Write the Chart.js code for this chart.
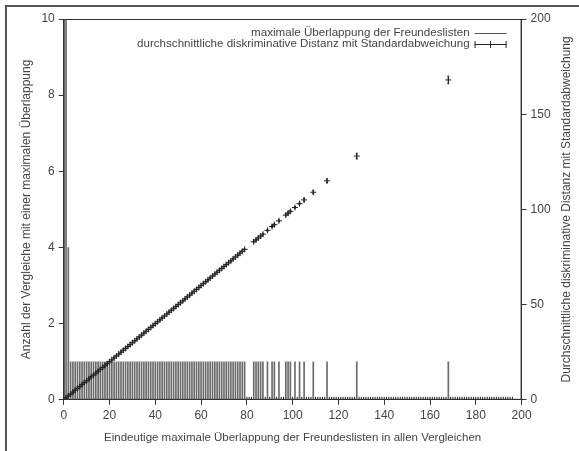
<!DOCTYPE html>
<html>
<head>
<meta charset="utf-8">
<script src="https://cdn.jsdelivr.net/npm/chart.js@4/dist/chart.umd.min.js"></script>
<style>
  body { margin: 0; background: #fff; }
  #frame { position: absolute; left: 5px; top: 5px; width: 580px; height: 450px;
           border-top: 2px solid #555; border-left: 2px solid #555; pointer-events: none; }
</style>
</head>
<body>
<canvas id="chart" width="579" height="451"></canvas>
<div id="frame"></div>
<script>
// Anzahl der Vergleiche je eindeutiger maximaler Überlappung (linke Achse)
const overlapX = [1, 2, 3, 4, 5, 6, 7, 8, 9, 10, 11, 12, 13, 14, 15, 16, 17, 18, 19, 20,
  21, 22, 23, 24, 25, 26, 27, 28, 29, 30, 31, 32, 33, 34, 35, 36, 37, 38, 39, 40,
  41, 42, 43, 44, 45, 46, 47, 48, 49, 50, 51, 52, 53, 54, 55, 56, 57, 58, 59, 60,
  61, 62, 63, 64, 65, 66, 67, 68, 69, 70, 71, 72, 73, 74, 75, 76, 77, 78, 79,
  83, 84, 85, 86, 87, 89, 91, 92, 94, 97, 98, 99, 101, 103, 105, 109, 115, 128, 168];
const overlapCount = [14, 4, 1, 1, 1, 1, 1, 1, 1, 1, 1, 1, 1, 1, 1, 1, 1, 1, 1, 1,
  1, 1, 1, 1, 1, 1, 1, 1, 1, 1, 1, 1, 1, 1, 1, 1, 1, 1, 1, 1,
  1, 1, 1, 1, 1, 1, 1, 1, 1, 1, 1, 1, 1, 1, 1, 1, 1, 1, 1, 1,
  1, 1, 1, 1, 1, 1, 1, 1, 1, 1, 1, 1, 1, 1, 1, 1, 1, 1, 1,
  1, 1, 1, 1, 1, 1, 1, 1, 1, 1, 1, 1, 1, 1, 1, 1, 1, 1, 1];

// durchschnittliche diskriminative Distanz (rechte Achse), Punkte auf der Diagonalen
const distX = [0, 1, 2, 3, 4, 5, 6, 7, 8, 9, 10, 11, 12, 13, 14, 15, 16, 17, 18, 19, 20,
  21, 22, 23, 24, 25, 26, 27, 28, 29, 30, 31, 32, 33, 34, 35, 36, 37, 38, 39, 40,
  41, 42, 43, 44, 45, 46, 47, 48, 49, 50, 51, 52, 53, 54, 55, 56, 57, 58, 59, 60,
  61, 62, 63, 64, 65, 66, 67, 68, 69, 70, 71, 72, 73, 74, 75, 76, 77, 78, 79,
  83, 84, 85, 86, 87, 89, 91, 92, 94, 97, 98, 99, 101, 103, 105, 109, 115, 128, 168];
const distMean = [0, 1, 2, 3, 4, 5, 6, 7, 8, 9, 10, 11, 12, 13, 14, 15, 16, 17, 18, 19, 20,
  21, 22, 23, 24, 25, 26, 27, 28, 29, 30, 31, 32, 33, 34, 35, 36, 37, 38, 39, 40,
  41, 42, 43, 44, 45, 46, 47, 48, 49, 50, 51, 52, 53, 54, 55, 56, 57, 58, 59, 60,
  61, 62, 63, 64, 65, 66, 67, 68, 69, 70, 71, 72, 73, 74, 75, 76, 77, 78, 79,
  83, 84, 85, 86, 87, 89, 91, 92, 94, 97, 98, 99, 101, 103, 105, 109, 115, 128, 168];
const distStd = [0, 0.3, 0.3, 0.3, 0.3, 0.3, 0.3, 0.3, 0.3, 0.3, 0.3, 0.3, 0.3, 0.3, 0.3, 0.3, 0.3, 0.3, 0.3, 0.3, 0.3,
  0.3, 0.3, 0.3, 0.3, 0.3, 0.3, 0.3, 0.3, 0.3, 0.3, 0.3, 0.3, 0.3, 0.3, 0.3, 0.3, 0.3, 0.3, 0.3, 0.3,
  0.3, 0.3, 0.3, 0.3, 0.3, 0.3, 0.3, 0.3, 0.3, 0.3, 0.3, 0.3, 0.3, 0.3, 0.3, 0.3, 0.3, 0.3, 0.3, 0.3,
  0.3, 0.3, 0.3, 0.3, 0.3, 0.3, 0.3, 0.3, 0.3, 0.3, 0.3, 0.3, 0.3, 0.3, 0.3, 0.3, 0.3, 0.3, 0.3,
  0.5, 0.5, 0.5, 0.5, 0.5, 0.5, 0.5, 0.5, 0.5, 0.5, 0.5, 0.5, 0.5, 0.5, 0.8, 0.8, 1, 1.5, 2];

// Überlappungen ohne Vergleiche: Distanz 0 auf der x-Achse
const zeroX = [80, 81, 82, 88, 90, 93, 95, 96, 100, 102, 104, 106, 107, 108, 110, 111, 112, 113, 114,
  116, 117, 118, 119, 120, 121, 122, 123, 124, 125, 126, 127, 129, 130, 131, 132, 133, 134, 135,
  136, 137, 138, 139, 140, 141, 142, 143, 144, 145, 146, 147, 148, 149, 150, 151, 152, 153, 154,
  155, 156, 157, 158, 159, 160, 161, 162, 163, 164, 165, 166, 167, 169, 170, 171, 172, 173, 174,
  175, 176, 177, 178, 179, 180, 181, 182, 183, 184, 185, 186, 187, 188, 189, 190, 191, 192, 193,
  194, 195, 196];

const xTicks = [0, 20, 40, 60, 80, 100, 120, 140, 160, 180, 200];
const leftTicks = [0, 2, 4, 6, 8, 10];
const rightTicks = [0, 50, 100, 150, 200];

const labelCount = "maximale Überlappung der Freundeslisten";
const labelDist = "durchschnittliche diskriminative Distanz mit Standardabweichung";
const titleX = "Eindeutige maximale Überlappung der Freundeslisten in allen Vergleichen";
const titleLeft = "Anzahl der Vergleiche mit einer maximalen Überlappung";
const titleRight = "Durchschnittliche diskriminative Distanz mit Standardabweichung";

const points = distX.map((x, i) => ({ x: x, y: distMean[i], s: distStd[i] }))
  .concat(zeroX.map(x => ({ x: x, y: 0, s: 0 })));

const ink = "#222";
const grey = "#444";
const fontFamily = "'Liberation Sans', Arial, sans-serif";
const font = { family: fontFamily, size: 12 };

// error bars for the distance series
const errorBars = {
  id: "errorBars",
  afterDatasetsDraw(chart) {
    const ctx = chart.ctx;
    const area = chart.chartArea;
    const meta = chart.getDatasetMeta(1);
    const y2 = chart.scales.y2;
    ctx.save();
    ctx.beginPath();
    ctx.rect(area.left, area.top, area.width, area.height);
    ctx.clip();
    ctx.strokeStyle = ink;
    ctx.lineWidth = 1;
    meta.data.forEach((el, i) => {
      const d = chart.data.datasets[1].data[i];
      if (!d.s) return;
      const top = y2.getPixelForValue(d.y + d.s);
      const bot = y2.getPixelForValue(d.y - d.s);
      ctx.beginPath();
      ctx.moveTo(el.x, top); ctx.lineTo(el.x, bot);
      ctx.moveTo(el.x - 1, top); ctx.lineTo(el.x + 1, top);
      ctx.moveTo(el.x - 1, bot); ctx.lineTo(el.x + 1, bot);
      ctx.stroke();
    });
    ctx.restore();
  }
};

// gnuplot style box, key and the right-hand title (read bottom to top)
const frameAndKey = {
  id: "frameAndKey",
  afterDraw(chart) {
    const ctx = chart.ctx;
    const a = chart.chartArea;
    ctx.save();
    ctx.strokeStyle = "#333";
    ctx.lineWidth = 1;
    ctx.strokeRect(a.left + 0.5, a.top + 0.5, a.width - 1, a.height - 1);

    ctx.font = "11.6px " + fontFamily;
    ctx.fillStyle = grey;
    ctx.textAlign = "right";
    ctx.textBaseline = "middle";
    const tx = a.right - 52;
    const sx0 = a.right - 47, sx1 = a.right - 15;
    const r1 = a.top + 14, r2 = a.top + 25;
    ctx.fillText(chart.data.datasets[0].label, tx, r1);
    ctx.fillText(chart.data.datasets[1].label, tx, r2);
    ctx.strokeStyle = "#555";
    ctx.beginPath();
    ctx.moveTo(sx0, r1 + 0.5); ctx.lineTo(sx1, r1 + 0.5);
    ctx.stroke();
    ctx.strokeStyle = ink;
    const mid = (sx0 + sx1) / 2;
    ctx.beginPath();
    ctx.moveTo(sx0, r2 + 0.5); ctx.lineTo(sx1, r2 + 0.5);
    ctx.moveTo(sx0 + 0.5, r2 - 3); ctx.lineTo(sx0 + 0.5, r2 + 4);
    ctx.moveTo(sx1 - 0.5, r2 - 3); ctx.lineTo(sx1 - 0.5, r2 + 4);
    ctx.moveTo(mid, r2 - 3); ctx.lineTo(mid, r2 + 4);
    ctx.stroke();

    const s = chart.scales.y2;
    ctx.font = "12px " + fontFamily;
    ctx.textAlign = "center";
    ctx.translate(s.right - 10, (a.top + a.bottom) / 2);
    ctx.rotate(-Math.PI / 2);
    ctx.fillText(titleRight, 0, 0);
    ctx.restore();
  }
};

function axisFor(min, max, ticks, position, title, titleColor, titleSize) {
  return {
    type: "linear",
    position: position,
    min: min,
    max: max,
    afterBuildTicks: s => { s.ticks = ticks.map(v => ({ value: v })); },
    ticks: { color: grey, font: font, padding: 4 },
    grid: { drawOnChartArea: false, drawTicks: true, tickLength: 5, color: "#333", offset: false },
    border: { display: true, color: "#333" },
    title: { display: true, text: title, color: titleColor,
             font: { family: fontFamily, size: titleSize }, padding: { top: 4, bottom: 4 } }
  };
}

new Chart(document.getElementById("chart"), {
  type: "scatter",
  data: {
    datasets: [
      {
        type: "bar",
        label: labelCount,
        data: overlapX.map((x, i) => ({ x: x, y: overlapCount[i] })),
        xAxisID: "x",
        yAxisID: "y",
        backgroundColor: "#6a6a6a",
        barThickness: 1,
        grouped: false,
        order: 2
      },
      {
        type: "scatter",
        label: labelDist,
        data: points,
        xAxisID: "x",
        yAxisID: "y2",
        pointStyle: "cross",
        pointRadius: 3,
        pointBorderWidth: 1,
        borderColor: ink,
        backgroundColor: ink,
        order: 1
      }
    ]
  },
  options: {
    responsive: false,
    animation: false,
    layout: { padding: { left: 15, right: 2, top: 19, bottom: 2 } },
    plugins: { legend: { display: false }, tooltip: { enabled: false } },
    scales: {
      x: Object.assign(axisFor(0, 200, xTicks, "bottom", titleX, grey, 11.5), { offset: false }),
      y: axisFor(0, 10, leftTicks, "left", titleLeft, grey, 12),
      // title space kept, text drawn by the plugin
      y2: axisFor(0, 200, rightTicks, "right", titleRight, "rgba(0,0,0,0)", 12)
    }
  },
  plugins: [errorBars, frameAndKey]
});
</script>
</body>
</html>
